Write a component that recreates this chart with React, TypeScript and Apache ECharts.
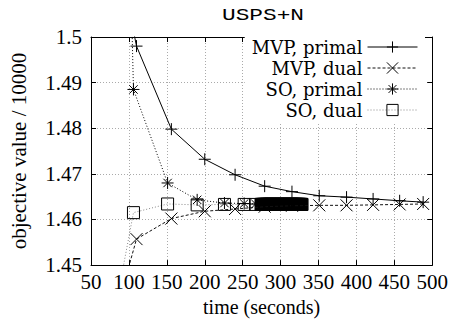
import React, { useEffect, useRef } from "react";
import * as echarts from "echarts";

const TITLE = "USPS+N";
const X_LABEL = "time (seconds)";
const Y_LABEL = "objective value / 10000";
const SERIES_NAMES = ["MVP, primal", "MVP, dual", "SO, primal", "SO, dual"];

const X_MIN = 50;
const X_MAX = 500;
const X_STEP = 50;
const Y_MIN = 1.45;
const Y_MAX = 1.5;
const Y_STEP = 0.01;

const mvpPrimalTime = [104, 110, 156, 200, 240, 279, 315, 351, 387, 422, 457, 488];
const mvpPrimalValue = [1.503, 1.498, 1.4798, 1.4732, 1.4698, 1.4673, 1.4661, 1.4652, 1.4649, 1.4645, 1.4641, 1.4638];

const mvpDualTime = [87, 110, 156, 200, 240, 279, 315, 351, 387, 422, 457, 488];
const mvpDualValue = [1.442, 1.4557, 1.4602, 1.4618, 1.4623, 1.4628, 1.463, 1.4631, 1.4631, 1.4632, 1.4633, 1.4634];

const soPrimalTime = [
  100, 106, 151, 190, 226, 252, 267,
  274, 274.5, 275, 275.5, 276, 276.5, 277, 277.5, 278, 278.5,
  279, 279.5, 280, 280.5, 281, 281.5, 282, 282.5, 283, 283.5,
  284, 284.5, 285, 285.5, 286, 286.5, 287, 287.5, 288, 288.5,
  289, 289.5, 290, 290.5, 291, 291.5, 292, 292.5, 293, 293.5,
  294, 294.5, 295, 295.5, 296, 296.5, 297, 297.5, 298, 298.5,
  299, 299.5, 300, 300.5, 301, 301.5, 302, 302.5, 303, 303.5,
  304, 304.5, 305, 305.5, 306, 306.5, 307, 307.5, 308, 308.5,
  309, 309.5, 310, 310.5, 311, 311.5, 312, 312.5, 313, 313.5,
  314, 314.5, 315, 315.5, 316, 316.5, 317, 317.5, 318, 318.5,
  319, 319.5, 320, 320.5, 321, 321.5, 322, 322.5, 323, 323.5,
  324, 324.5, 325, 325.5, 326, 326.5, 327, 327.5, 328,
];
const soPrimalValue = [
  1.53, 1.4885, 1.468, 1.4643, 1.4636, 1.4635, 1.4634,
  1.4634, 1.4634, 1.4634, 1.4634, 1.4634, 1.4634, 1.4634, 1.4634, 1.4634, 1.4634,
  1.4634, 1.4634, 1.4634, 1.4634, 1.4633, 1.4633, 1.4633, 1.4633, 1.4633, 1.4633,
  1.4633, 1.4633, 1.4633, 1.4633, 1.4633, 1.4633, 1.4633, 1.4633, 1.4633, 1.4633,
  1.4633, 1.4633, 1.4633, 1.4633, 1.4633, 1.4633, 1.4633, 1.4633, 1.4633, 1.4633,
  1.4633, 1.4633, 1.4633, 1.4633, 1.4633, 1.4633, 1.4633, 1.4633, 1.4633, 1.4633,
  1.4633, 1.4633, 1.4633, 1.4633, 1.4633, 1.4633, 1.4633, 1.4633, 1.4633, 1.4633,
  1.4633, 1.4633, 1.4633, 1.4633, 1.4633, 1.4633, 1.4633, 1.4633, 1.4633, 1.4633,
  1.4633, 1.4633, 1.4633, 1.4633, 1.4633, 1.4633, 1.4633, 1.4633, 1.4633, 1.4633,
  1.4633, 1.4633, 1.4633, 1.4633, 1.4633, 1.4633, 1.4633, 1.4633, 1.4633, 1.4633,
  1.4633, 1.4633, 1.4633, 1.4633, 1.4633, 1.4633, 1.4633, 1.4633, 1.4633, 1.4633,
  1.4633, 1.4633, 1.4633, 1.4633, 1.4633, 1.4633, 1.4633, 1.4633, 1.4633,
];

const soDualTime = [
  85, 106, 151, 190, 226, 252, 267,
  274.25, 274.75, 275.25, 275.75, 276.25, 276.75, 277.25, 277.75, 278.25, 278.75,
  279.25, 279.75, 280.25, 280.75, 281.25, 281.75, 282.25, 282.75, 283.25, 283.75,
  284.25, 284.75, 285.25, 285.75, 286.25, 286.75, 287.25, 287.75, 288.25, 288.75,
  289.25, 289.75, 290.25, 290.75, 291.25, 291.75, 292.25, 292.75, 293.25, 293.75,
  294.25, 294.75, 295.25, 295.75, 296.25, 296.75, 297.25, 297.75, 298.25, 298.75,
  299.25, 299.75, 300.25, 300.75, 301.25, 301.75, 302.25, 302.75, 303.25, 303.75,
  304.25, 304.75, 305.25, 305.75, 306.25, 306.75, 307.25, 307.75, 308.25, 308.75,
  309.25, 309.75, 310.25, 310.75, 311.25, 311.75, 312.25, 312.75, 313.25, 313.75,
  314.25, 314.75, 315.25, 315.75, 316.25, 316.75, 317.25, 317.75, 318.25, 318.75,
  319.25, 319.75, 320.25, 320.75, 321.25, 321.75, 322.25, 322.75, 323.25, 323.75,
  324.25, 324.75, 325.25, 325.75, 326.25, 326.75, 327.25, 327.75, 328.25,
];
const soDualValue = [
  1.443, 1.4615, 1.4634, 1.4632, 1.4633, 1.4633, 1.4633,
  1.4633, 1.4633, 1.4633, 1.4633, 1.4633, 1.4633, 1.4633, 1.4633, 1.4633, 1.4633,
  1.4633, 1.4633, 1.4633, 1.4633, 1.4633, 1.4633, 1.4633, 1.4633, 1.4633, 1.4633,
  1.4633, 1.4633, 1.4633, 1.4633, 1.4633, 1.4633, 1.4633, 1.4633, 1.4633, 1.4633,
  1.4633, 1.4633, 1.4633, 1.4633, 1.4633, 1.4633, 1.4633, 1.4633, 1.4633, 1.4633,
  1.4633, 1.4633, 1.4633, 1.4633, 1.4633, 1.4633, 1.4633, 1.4633, 1.4633, 1.4633,
  1.4633, 1.4633, 1.4633, 1.4633, 1.4633, 1.4633, 1.4633, 1.4633, 1.4633, 1.4633,
  1.4633, 1.4633, 1.4633, 1.4633, 1.4633, 1.4633, 1.4633, 1.4633, 1.4633, 1.4633,
  1.4633, 1.4633, 1.4633, 1.4633, 1.4633, 1.4633, 1.4633, 1.4633, 1.4633, 1.4633,
  1.4633, 1.4633, 1.4633, 1.4633, 1.4633, 1.4633, 1.4633, 1.4633, 1.4633, 1.4633,
  1.4633, 1.4633, 1.4633, 1.4633, 1.4633, 1.4633, 1.4633, 1.4633, 1.4633, 1.4633,
  1.4633, 1.4633, 1.4633, 1.4633, 1.4633, 1.4633, 1.4633, 1.4633, 1.4633,
];

const SYM_PLUS = "path://M0,5L10,5M5,0L5,10";
const SYM_CROSS = "path://M0,0L10,10M10,0L0,10";
const SYM_STAR = "path://M0,5L10,5M5,0L5,10M1.5,1.5L8.5,8.5M8.5,1.5L1.5,8.5";
const SYM_SQUARE = "path://M0,0L10,0L10,10L0,10Z";

const SERIF = "Liberation Serif";
const LEGEND_SERIF = "DejaVu Serif";
const MONO = "Liberation Mono";

function zip(xs: number[], ys: number[]) {
  return xs.map((x, i) => [x, ys[i]]);
}

export default function App() {
  const ref = useRef<HTMLDivElement>(null);

  useEffect(() => {
    if (!ref.current) return;
    const chart = echarts.init(ref.current, null, { renderer: "svg" });

    const specs = [
      { name: SERIES_NAMES[0], data: zip(mvpPrimalTime, mvpPrimalValue), symbol: SYM_PLUS, lineColor: "#000", lineType: "solid" as any, z: 5 },
      { name: SERIES_NAMES[1], data: zip(mvpDualTime, mvpDualValue), symbol: SYM_CROSS, lineColor: "#111", lineType: [3, 2] as any, z: 4 },
      { name: SERIES_NAMES[2], data: zip(soPrimalTime, soPrimalValue), symbol: SYM_STAR, lineColor: "#000", lineType: [1, 2] as any, z: 3 },
      { name: SERIES_NAMES[3], data: zip(soDualTime, soDualValue), symbol: SYM_SQUARE, lineColor: "#888", lineType: [1, 2] as any, z: 2 },
    ];

    const axisCommon = {
      axisLine: { show: true, onZero: false, lineStyle: { color: "#000", width: 1 } },
      axisTick: { show: true, inside: true, length: 5, lineStyle: { color: "#000", width: 1 } },
    };

    chart.setOption({
      animation: false,
      backgroundColor: "#fff",
      textStyle: { fontFamily: SERIF, color: "#000" },
      graphic: [
        {
          type: "text",
          x: 263,
          y: 15,
          scaleX: 1.34,
          style: {
            text: TITLE,
            fontFamily: MONO,
            fontSize: 17,
            fill: "#000",
            align: "center",
            verticalAlign: "middle",
          },
        },
      ],
      grid: { left: 89, top: 37, width: 347, height: 230, show: false },
      xAxis: [
        {
          type: "value",
          min: X_MIN,
          max: X_MAX,
          interval: X_STEP,
          position: "bottom",
          ...axisCommon,
          axisLabel: { color: "#000", fontFamily: SERIF, fontSize: 21, margin: 6 },
          splitLine: { show: true, lineStyle: { color: "#aaa", width: 1, type: [1, 2] } },
          name: X_LABEL,
          nameLocation: "middle",
          nameGap: 30,
          nameTextStyle: { color: "#000", fontFamily: SERIF, fontSize: 20 },
        },
        {
          type: "value",
          min: X_MIN,
          max: X_MAX,
          interval: X_STEP,
          position: "top",
          ...axisCommon,
          axisLabel: { show: false },
          splitLine: { show: false },
        },
      ],
      yAxis: [
        {
          type: "value",
          min: Y_MIN,
          max: Y_MAX,
          interval: Y_STEP,
          position: "left",
          ...axisCommon,
          axisLabel: { color: "#000", fontFamily: SERIF, fontSize: 21, margin: 9 },
          splitLine: { show: true, lineStyle: { color: "#aaa", width: 1, type: [1, 2] } },
          name: Y_LABEL,
          nameLocation: "middle",
          nameGap: 62,
          nameTextStyle: { color: "#000", fontFamily: SERIF, fontSize: 21 },
        },
        {
          type: "value",
          min: Y_MIN,
          max: Y_MAX,
          interval: Y_STEP,
          position: "right",
          ...axisCommon,
          axisLabel: { show: false },
          splitLine: { show: false },
        },
      ],
      legend: {
        orient: "vertical",
        right: 26,
        top: 35,
        align: "right",
        itemWidth: 50,
        itemHeight: 14,
        itemGap: 3,
        padding: [3, 7, 3, 7],
        backgroundColor: "#fff",
        selectedMode: false,
        textStyle: { color: "#000", fontFamily: LEGEND_SERIF, fontSize: 18 },
        data: specs.map((s) => ({
          name: s.name,
          itemStyle: { color: "transparent", borderColor: "#000", borderWidth: 1 },
          lineStyle: { color: s.lineColor, width: 1, type: s.lineType },
        })),
      },
      series: specs.map((s) => ({
        type: "line",
        name: s.name,
        data: s.data,
        xAxisIndex: 0,
        yAxisIndex: 0,
        clip: true,
        z: s.z,
        symbol: s.symbol,
        symbolSize: 12,
        showSymbol: true,
        lineStyle: { color: s.lineColor, width: 1, type: s.lineType },
        itemStyle: { color: "transparent", borderColor: "#000", borderWidth: 1 },
        emphasis: { disabled: true },
      })),
    });

    return () => chart.dispose();
  }, []);

  return <div ref={ref} style={{ width: 451, height: 322, position: "absolute", left: 0, top: 0 }} />;
}
